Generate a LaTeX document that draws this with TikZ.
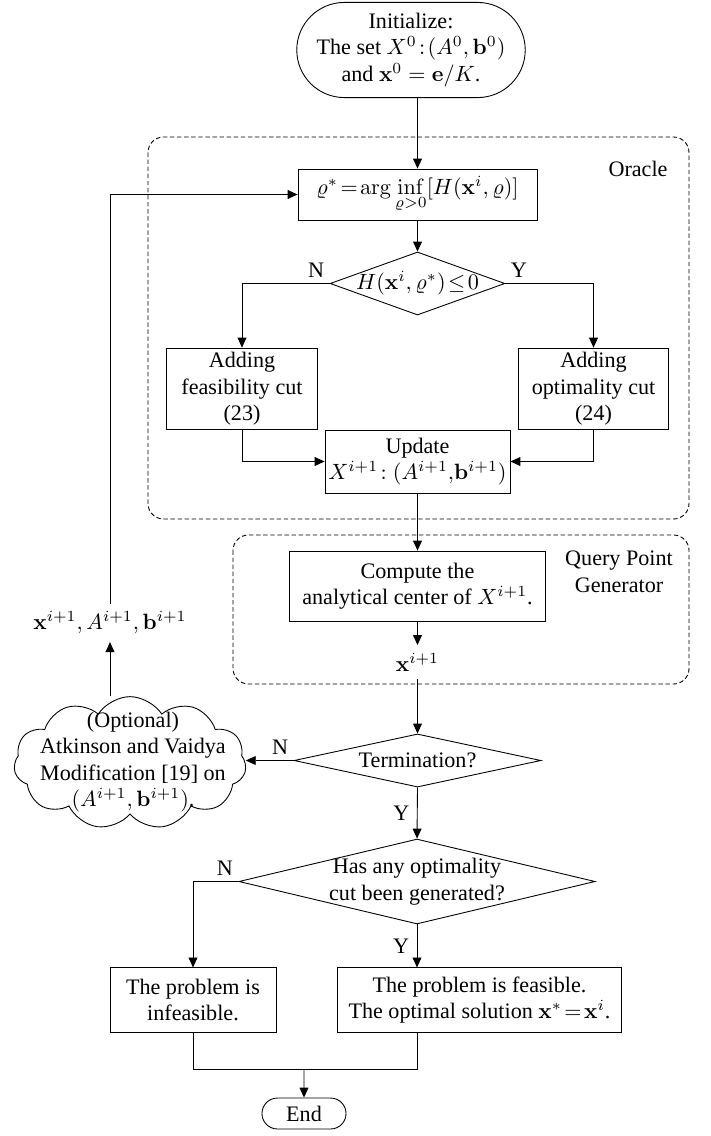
\documentclass[tikz,border=0pt]{standalone}
\usepackage[no-math]{fontspec}
\setmainfont{Liberation Serif}
\usepackage{amsmath,amssymb}
\usetikzlibrary{arrows.meta,shapes.geometric,shapes.misc,shapes.symbols}

\begin{document}
\begin{tikzpicture}[x=0.452pt,y=-0.452pt,
    >={Triangle[length=4.5pt,width=4pt]},
    box/.style={draw,rectangle,align=center,inner sep=1pt},
    decision/.style={draw,diamond,align=center,inner sep=-1.5pt},
    terminal/.style={draw,rounded rectangle,align=center,inner sep=1pt},
    group/.style={draw,dash pattern=on 2pt off 1.2pt,rounded corners=7pt}]
    \useasboundingbox (0,0) rectangle (710,1136);
    % dashed groups
    \draw[group] (148,137) rectangle (689,519);
    \draw[group] (233,535) rectangle (689,684);
    \node (oracle) at (638,169) {Oracle};
    \node[align=center] (qpg) at (619,572) {Query Point\\Generator};
    % main chain
    \node[terminal,minimum width=102pt,minimum height=43pt] (start) at (411,50)
        {Initialize:\\ The set $X^0\!:\!(A^0,\mathbf{b}^0)$\\ and $\mathbf{x}^0=\mathbf{e}/K$.};
    \node[box,minimum width=108pt,minimum height=23pt] (rho) at (417.5,194.5)
        {$\varrho^*\!=\!\arg\inf\limits_{\varrho>0}[H(\mathbf{x}^i,\varrho)]$};
    \node[decision,aspect=2.8,minimum width=79pt,minimum height=28.5pt] (test) at (417.5,283.5)
        {$H(\mathbf{x}^i,\varrho^*)\!\leq\!0$};
    \node[box,minimum width=68pt,minimum height=37pt] (feascut) at (242,389)
        {Adding\\ feasibility cut\\ (23)};
    \node[box,minimum width=68pt,minimum height=37pt] (optcut) at (593.5,389)
        {Adding\\ optimality cut\\ (24)};
    \node[box,minimum width=83.6pt,minimum height=28.5pt] (update) at (417.5,461.5)
        {Update\\ $X^{i+1}\!:(A^{i+1},\!\mathbf{b}^{i+1})$};
    \node[box,minimum width=116pt,minimum height=31.6pt] (center) at (417.5,586)
        {Compute the\\ analytical center of $X^{i+1}$.};
    \node (xnew) at (417.5,662) {$\mathbf{x}^{i+1}$};
    \node[decision,aspect=4.6,minimum width=111.6pt,minimum height=24pt] (term) at (417.5,760.5)
        {Termination?};
    \node[draw,cloud,cloud puffs=11,cloud puff arc=115,inner sep=0pt,
        minimum width=105pt,minimum height=60pt] (cloud) at (130,763) {};
    \node[align=center] (cloudtxt) at (133,762)
        {(Optional)\\ Atkinson and Vaidya\\ Modification [19] on\\ $(A^{i+1},\mathbf{b}^{i+1})$.};
    \node (fb) at (110,623) {$\mathbf{x}^{i+1},A^{i+1},\mathbf{b}^{i+1}$};
    \node[decision,aspect=4.2,minimum width=161pt,minimum height=38.4pt] (anyopt) at (417,881.5)
        {Has any optimality\\ cut been generated?};
    \node[box,minimum width=75pt,minimum height=29pt] (infeas) at (193,1000)
        {The problem is\\ infeasible.};
    \node[box,minimum width=128pt,minimum height=29pt] (feas) at (479.5,1000)
        {The problem is feasible.\\ The optimal solution $\mathbf{x}^*\!=\!\mathbf{x}^i$.};
    \node[terminal,minimum width=40pt,minimum height=14pt] (done) at (304,1113.5) {End};
    \coordinate (merge) at (304,1069);
    % connectors
    \draw[->] (start.south -| rho.north) -- (rho.north);
    \draw[->] (rho) -- (test);
    \draw[->] (test.west) node[above left=-1pt] {N} -| (feascut.north);
    \draw[->] (test.east) node[above right=-1pt] {Y} -| (optcut.north);
    \draw[->] (feascut.south) |- (update.west);
    \draw[->] (optcut.south) |- (update.east);
    \draw[->] (update) -- (center);
    \draw[->] (center) -- (xnew);
    \draw[->] (xnew) -- (term);
    \draw[->] (term.west) node[above left=-1pt] {N} -- (term.west -| cloud.east);
    \draw[->] (cloud.north -| fb) -- (fb);
    \draw[->] (fb.north) |- (rho.west);
    \draw[->] (term.south) -- node[left] {Y} (anyopt.north);
    \draw[->] (anyopt.west) node[above left=-1pt] {N} -| (infeas.north);
    \draw[->] (anyopt.south) -- node[left] {Y} (anyopt.south |- feas.north);
    \draw (infeas.south) |- (merge);
    \draw (anyopt.south |- feas.south) |- (merge);
    \draw[->] (merge) -- (done);
\end{tikzpicture}
\end{document}
